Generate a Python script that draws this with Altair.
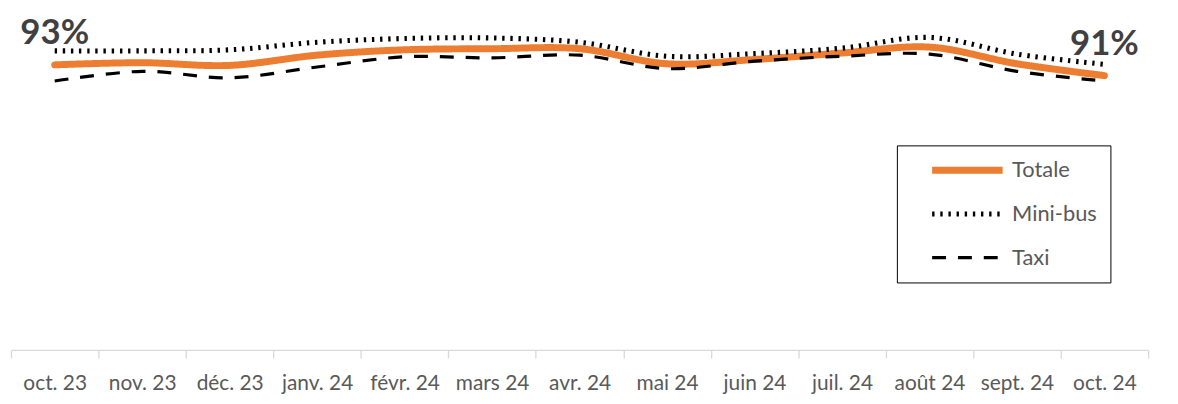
import altair as alt
import pandas as pd

months = ["oct. 23", "nov. 23", "déc. 23", "janv. 24", "févr. 24", "mars 24", "avr. 24",
          "mai 24", "juin 24", "juil. 24", "août 24", "sept. 24", "oct. 24"]
series_names = ["Totale", "Mini-bus", "Taxi"]
totale = [0.930, 0.934, 0.929, 0.948, 0.958, 0.960, 0.960, 0.932, 0.940, 0.952, 0.963, 0.932, 0.910]
minibus = [0.956, 0.956, 0.958, 0.972, 0.979, 0.980, 0.972, 0.946, 0.951, 0.961, 0.981, 0.950, 0.931]
taxi = [0.900, 0.918, 0.906, 0.926, 0.945, 0.943, 0.948, 0.923, 0.937, 0.946, 0.950, 0.918, 0.900]

rows = []
for name, vals in zip(series_names, [totale, minibus, taxi]):
    for m, v in zip(months, vals):
        rows.append({"month": m, "series": name, "value": v})
df = pd.DataFrame(rows)

FONT = "Lato"

legend = alt.Legend(
    title=None, orient="none", legendX=892, legendY=119,
    symbolType="stroke", symbolSize=5041, clipHeight=24, rowPadding=20,
    padding=13, symbolOffset=19, labelOffset=6,
    strokeColor="#000000", labelFont=FONT, labelFontSize=22, labelColor="#595959",
)

x_enc = alt.X(
    "month:N", sort=months,
    scale=alt.Scale(type="band", paddingInner=0, paddingOuter=0),
    axis=alt.Axis(title=None, labelAngle=0, tickBand="extent", domainColor="#d9d9d9",
                  tickColor="#d9d9d9", tickSize=8, domainWidth=1.3, tickWidth=1.3,
                  labelFont=FONT, labelFontSize=21, labelColor="#595959", labelPadding=15,
                  grid=False),
)
y_enc = alt.Y("value:Q", scale=alt.Scale(domain=[0.40, 1.00]), axis=None)

series_enc = dict(
    color=alt.Color("series:N", scale=alt.Scale(domain=series_names,
                    range=["#ed7d31", "#000000", "#000000"]), legend=legend),
    strokeDash=alt.StrokeDash("series:N", scale=alt.Scale(domain=series_names,
                    range=[[1, 0], [2.4, 5.8], [14, 12]]), legend=legend),
    strokeWidth=alt.StrokeWidth("series:N", scale=alt.Scale(domain=series_names,
                    range=[7, 3.2, 4]), legend=legend),
)

base = alt.Chart(df)

line_tot = base.transform_filter(alt.datum.series == "Totale").mark_line(
    interpolate="catmull-rom", strokeCap="round"
).encode(x=x_enc, y=y_enc, **series_enc)

line_oth = base.transform_filter(alt.datum.series != "Totale").mark_line(
    interpolate="catmull-rom", strokeCap="butt"
).encode(x=x_enc, y=y_enc, **series_enc)

labels = base.transform_filter(
    (alt.datum.series == "Totale") & ((alt.datum.month == months[0]) | (alt.datum.month == months[-1]))
).transform_calculate(
    label="format(datum.value, '.0%')"
).mark_text(
    dy=-21, fontSize=35, fontWeight="bold", font=FONT, color="#404040", baseline="alphabetic"
).encode(x=x_enc, y=y_enc, text="label:N")

chart = alt.layer(line_tot, line_oth, labels).properties(
    width=1145, height=325,
    autosize=alt.AutoSizeParams(type="none"),
    padding={"left": 3, "top": 18, "right": 22, "bottom": 45},
    background="#ffffff",
).configure_view(stroke=None)

chart.save("out.html", embed_options={"renderer": "svg", "actions": False})
